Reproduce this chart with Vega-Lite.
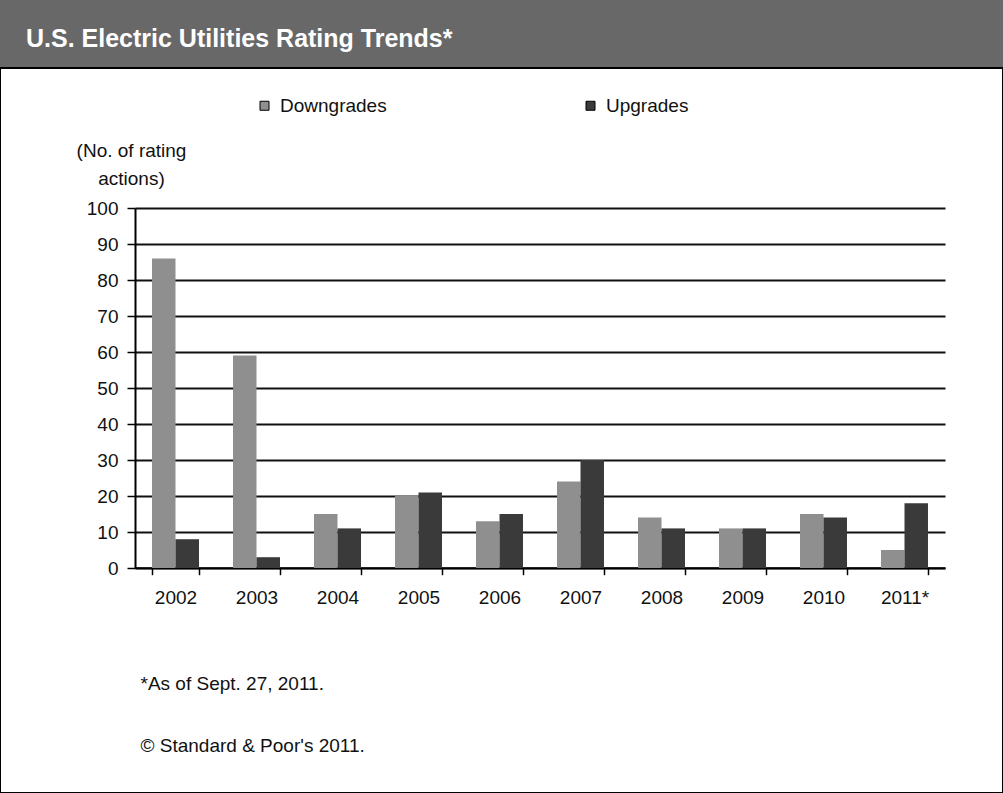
{
  "$schema": "https://vega.github.io/schema/vega-lite/v6.json",
  "autosize": "none",
  "width": 1003,
  "height": 725,
  "padding": {"left": 0, "top": 68, "right": 0, "bottom": 0},
  "background": "#686868",
  "view": {"fill": "white", "stroke": "#000", "strokeWidth": 2},
  "title": {
    "text": "U.S. Electric Utilities Rating Trends*",
    "anchor": "start",
    "frame": "group",
    "orient": "top",
    "offset": -4,
    "dx": 26,
    "baseline": "alphabetic",
    "font": "Liberation Sans",
    "fontSize": 25,
    "fontWeight": "bold",
    "color": "white"
  },
  "data": {
    "values": [
      {"year": "2002", "type": "Downgrades", "count": 86},
      {"year": "2002", "type": "Upgrades", "count": 8},
      {"year": "2003", "type": "Downgrades", "count": 59},
      {"year": "2003", "type": "Upgrades", "count": 3},
      {"year": "2004", "type": "Downgrades", "count": 15},
      {"year": "2004", "type": "Upgrades", "count": 11},
      {"year": "2005", "type": "Downgrades", "count": 20},
      {"year": "2005", "type": "Upgrades", "count": 21},
      {"year": "2006", "type": "Downgrades", "count": 13},
      {"year": "2006", "type": "Upgrades", "count": 15},
      {"year": "2007", "type": "Downgrades", "count": 24},
      {"year": "2007", "type": "Upgrades", "count": 30},
      {"year": "2008", "type": "Downgrades", "count": 14},
      {"year": "2008", "type": "Upgrades", "count": 11},
      {"year": "2009", "type": "Downgrades", "count": 11},
      {"year": "2009", "type": "Upgrades", "count": 11},
      {"year": "2010", "type": "Downgrades", "count": 15},
      {"year": "2010", "type": "Upgrades", "count": 14},
      {"year": "2011*", "type": "Downgrades", "count": 5},
      {"year": "2011*", "type": "Upgrades", "count": 18}
    ]
  },
  "mark": {"type": "bar"},
  "encoding": {
    "x": {
      "field": "year",
      "type": "nominal",
      "sort": null,
      "scale": {"range": [135, 945], "paddingInner": 0.42, "paddingOuter": 0.21},
      "axis": {
        "orient": "bottom",
        "offset": -225.3,
        "labelAngle": 0,
        "tickBand": "extent",
        "tickSize": 7,
        "tickColor": "#000",
        "tickWidth": 1.5,
        "domainColor": "#000",
        "domainWidth": 2,
        "labelFont": "Liberation Sans",
        "labelFontSize": 19,
        "labelColor": "#111",
        "labelPadding": 14,
        "grid": false,
        "title": ["*As of Sept. 27, 2011.", "© Standard & Poor's 2011."],
        "titleX": 140,
        "titleY": 122,
        "titleAlign": "left",
        "titleBaseline": "alphabetic",
        "titleLineHeight": 62,
        "titleFont": "Liberation Sans",
        "titleFontSize": 19,
        "titleFontWeight": "normal",
        "titleColor": "#111"
      }
    },
    "xOffset": {
      "field": "type",
      "type": "nominal",
      "sort": ["Downgrades", "Upgrades"],
      "scale": {"paddingInner": 0, "paddingOuter": 0}
    },
    "y": {
      "field": "count",
      "type": "quantitative",
      "scale": {"domain": [0, 100], "range": [500, 140], "nice": false},
      "axis": {
        "orient": "left",
        "offset": -135,
        "values": [0, 10, 20, 30, 40, 50, 60, 70, 80, 90, 100],
        "grid": true,
        "gridColor": "#111",
        "gridWidth": 2,
        "gridOpacity": 1,
        "tickSize": 8,
        "tickColor": "#000",
        "tickWidth": 1.5,
        "domainColor": "#000",
        "domainWidth": 2,
        "labelFont": "Liberation Sans",
        "labelFontSize": 19,
        "labelColor": "#111",
        "labelPadding": 9,
        "title": ["(No. of rating", "actions)"],
        "titleAngle": 0,
        "titleX": -4,
        "titleY": 88,
        "titleAlign": "center",
        "titleBaseline": "alphabetic",
        "titleLineHeight": 28,
        "titleFont": "Liberation Sans",
        "titleFontSize": 19,
        "titleFontWeight": "normal",
        "titleColor": "#111"
      }
    },
    "color": {
      "field": "type",
      "type": "nominal",
      "sort": ["Downgrades", "Upgrades"],
      "scale": {"domain": ["Downgrades", "Upgrades"], "range": ["#8f8f8f", "#3a3a3a"]},
      "legend": {
        "orient": "none",
        "legendX": 255,
        "legendY": 28,
        "direction": "horizontal",
        "title": null,
        "padding": 0,
        "symbolType": "square",
        "symbolSize": 81,
        "symbolStrokeColor": "#000",
        "symbolStrokeWidth": 1,
        "labelFont": "Liberation Sans",
        "labelFontSize": 19,
        "labelColor": "#111",
        "labelOffset": 6,
        "columnPadding": 194
      }
    }
  }
}
